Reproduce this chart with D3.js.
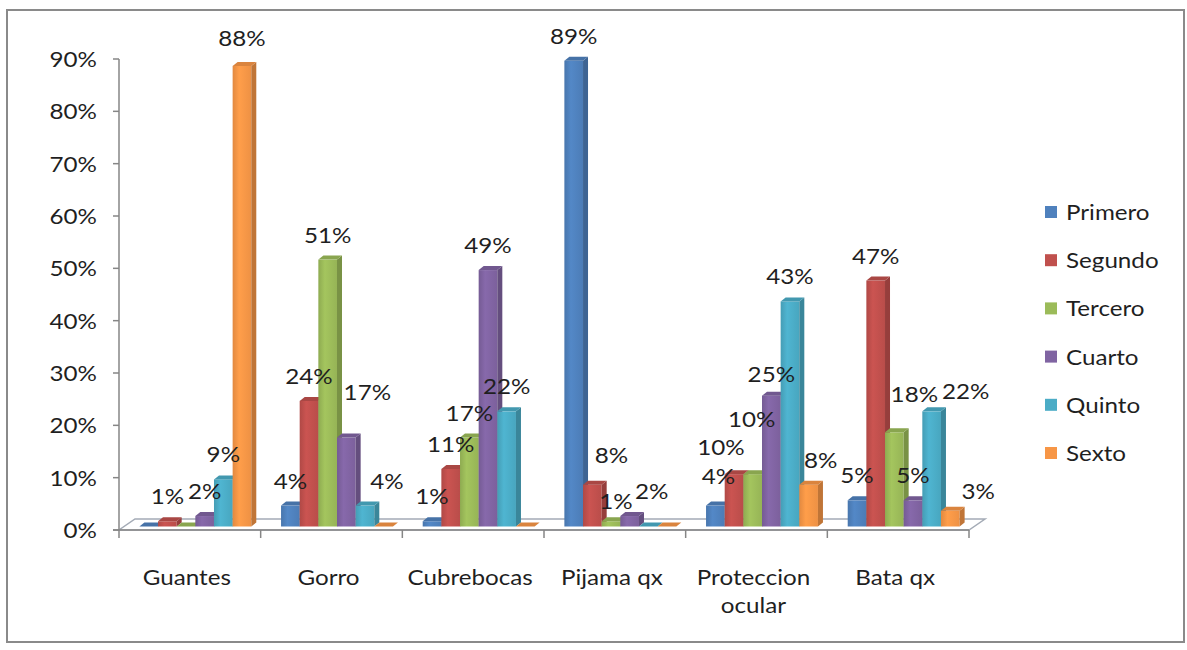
<!DOCTYPE html>
<html>
<head>
<meta charset="utf-8">
<script src="https://cdn.jsdelivr.net/npm/d3@7"></script>
<style>
  html, body { margin: 0; padding: 0; background: #fff; }
  svg { display: block; font-family: Lato, "Open Sans", sans-serif; }
</style>
</head>
<body>
<svg id="chart" width="1187" height="650"></svg>
<script>
// Categories (protective equipment) and the six ranking series
const categories = ["Guantes", "Gorro", "Cubrebocas", "Pijama qx", "Proteccion ocular", "Bata qx"];
const seriesNames = ["Primero", "Segundo", "Tercero", "Cuarto", "Quinto", "Sexto"];

const primero = [0.00, 0.04, 0.01, 0.89, 0.04, 0.05];
const segundo = [0.01, 0.24, 0.11, 0.08, 0.10, 0.47];
const tercero = [0.00, 0.51, 0.17, 0.01, 0.10, 0.18];
const cuarto  = [0.02, 0.17, 0.49, 0.02, 0.25, 0.05];
const quinto  = [0.09, 0.04, 0.22, 0.00, 0.43, 0.22];
const sexto   = [0.88, 0.00, 0.00, 0.00, 0.08, 0.03];

const yTickValues = [0, 0.1, 0.2, 0.3, 0.4, 0.5, 0.6, 0.7, 0.8, 0.9];

const seriesValues = [primero, segundo, tercero, cuarto, quinto, sexto];
const seriesColors = ["#4f81bd", "#c0504d", "#9bbb59", "#8064a2", "#4bacc6", "#f79646"];

// Hand-placed label shifts (category index, series index, dx, dy) where labels would collide
const labelNudges = [
  [0, 5, 0, -3],
  [1, 3, 21, -21],
  [1, 4, 22, 0],
  [3, 1, 19, -5],
  [3, 2, 5, 5],
  [3, 3, 22, 0],
  [4, 0, 3, -5],
  [4, 1, -13, -2],
  [4, 2, -1, -30],
  [4, 3, 0, 3],
  [4, 5, 12, 0],
  [5, 2, 20, -13],
  [5, 4, 34, 5],
  [5, 5, 28, 5]
];

const svg = d3.select("#chart");
const W = 1187, H = 650;
const FONT = 22, STRETCH = 1.1, TEXT = "#1f1f1f";

// Places a text node at (px, py) with a slight horizontal stretch
function place(sel, px, py) {
  return sel.attr("transform", `translate(${px},${py}) scale(${STRETCH},1)`);
}

// Outer frame
svg.append("rect").attr("x", 0).attr("y", 0).attr("width", W).attr("height", H).attr("fill", "#fff");
svg.append("rect")
  .attr("x", 7).attr("y", 10).attr("width", 1177).attr("height", 632)
  .attr("fill", "#fff").attr("stroke", "#8a8a8a").attr("stroke-width", 2);

const x = d3.scaleBand().domain(categories).range([119, 969]).paddingInner(0).paddingOuter(0);
const clusterW = x.bandwidth() * 0.79;
const inner = d3.scaleBand().domain(seriesNames).range([0, clusterW]).padding(0);
const clusterOffset = (x.bandwidth() - clusterW) / 2;
const y = d3.scaleLinear().domain([0, 0.9]).range([530, 59]);

// 3D depth of the floor and of each bar (projected offsets)
const floorDepth = { dx: 16, dy: -11 };
const barDepth = { dx: 5, dy: -4 };
const barShift = { dx: (floorDepth.dx - barDepth.dx) / 2, dy: (floorDepth.dy - barDepth.dy) / 2 };

const defs = svg.append("defs");
seriesColors.forEach((c, i) => {
  const base = d3.color(c);
  const g = defs.append("linearGradient").attr("id", "front" + i)
    .attr("x1", "0%").attr("x2", "100%").attr("y1", "0%").attr("y2", "0%");
  g.append("stop").attr("offset", "0%").attr("stop-color", base.darker(0.25));
  g.append("stop").attr("offset", "35%").attr("stop-color", base.brighter(0.15));
  g.append("stop").attr("offset", "100%").attr("stop-color", base.darker(0.1));
});

// Floor
const x0 = x.range()[0], x1 = x.range()[1], yFloor = y(0);
svg.append("polygon")
  .attr("points", [
    [x0, yFloor], [x1, yFloor],
    [x1 + floorDepth.dx, yFloor + floorDepth.dy],
    [x0 + floorDepth.dx, yFloor + floorDepth.dy]
  ].map(p => p.join(",")).join(" "))
  .attr("fill", "#fff").attr("stroke", "#a4abb6").attr("stroke-width", 1.5);

// Vertical axis
const axisColor = "#868686";
const gy = svg.append("g");
gy.append("line").attr("x1", x0).attr("x2", x0).attr("y1", y(0)).attr("y2", y(0.9))
  .attr("stroke", axisColor).attr("stroke-width", 1.5);
gy.selectAll("line.tick").data(yTickValues).join("line").attr("class", "tick")
  .attr("x1", x0 - 6).attr("x2", x0).attr("y1", d => y(d)).attr("y2", d => y(d))
  .attr("stroke", axisColor).attr("stroke-width", 1.5);
gy.selectAll("text").data(yTickValues).join("text")
  .each(function (d) { place(d3.select(this), 97, y(d)); })
  .attr("dy", "0.36em")
  .attr("text-anchor", "end").attr("font-size", FONT).attr("fill", TEXT)
  .text(d3.format(".0%"));

// Horizontal axis
const gx = svg.append("g");
gx.append("line").attr("x1", x0 - 6).attr("x2", x1).attr("y1", yFloor).attr("y2", yFloor)
  .attr("stroke", axisColor).attr("stroke-width", 1.5);
const boundaries = categories.map(c => x(c)).concat([x1]);
gx.selectAll("line.tick").data(boundaries).join("line").attr("class", "tick")
  .attr("x1", d => d).attr("x2", d => d).attr("y1", yFloor).attr("y2", yFloor + 8)
  .attr("stroke", axisColor).attr("stroke-width", 1.5);
gx.selectAll("text").data(categories).join("text")
  .each(function (d) { place(d3.select(this), x(d) + x.bandwidth() / 2 - 3, 585); })
  .attr("text-anchor", "middle").attr("font-size", FONT).attr("fill", TEXT)
  .each(function (d) {
    const words = d === "Proteccion ocular" ? ["Proteccion", "ocular"] : [d];
    const t = d3.select(this);
    words.forEach((w, i) => {
      t.append("tspan").attr("x", 0).attr("dy", i === 0 ? 0 : 28).text(w);
    });
  });

// Bars, drawn left to right so nearer side faces overlap correctly
const bars = [];
categories.forEach((c, ci) => {
  seriesNames.forEach((s, si) => {
    bars.push({ c, ci, s, si, v: seriesValues[si][ci] });
  });
});

const bw = inner.bandwidth();
function geom(d) {
  const bx = x(d.c) + clusterOffset + inner(d.s) + barShift.dx;
  const yb = y(0) + barShift.dy;
  const yt = y(d.v) + barShift.dy;
  return { bx, yb, yt };
}
const pts = arr => arr.map(p => p.join(",")).join(" ");

const gBars = svg.append("g");
bars.forEach(d => {
  const { bx, yb, yt } = geom(d);
  const base = d3.color(seriesColors[d.si]);
  const g = gBars.append("g");
  if (d.v > 0) {
    g.append("rect").attr("x", bx).attr("y", yt).attr("width", bw).attr("height", yb - yt)
      .attr("fill", `url(#front${d.si})`);
    g.append("polygon").attr("points", pts([
      [bx + bw, yb], [bx + bw + barDepth.dx, yb + barDepth.dy],
      [bx + bw + barDepth.dx, yt + barDepth.dy], [bx + bw, yt]
    ])).attr("fill", base.darker(0.7));
  }
  g.append("polygon").attr("points", pts([
    [bx, yt], [bx + bw, yt],
    [bx + bw + barDepth.dx, yt + barDepth.dy], [bx + barDepth.dx, yt + barDepth.dy]
  ])).attr("fill", base.darker(0.35));
});

// Value labels
const nudge = {};
labelNudges.forEach(([ci, si, dx, dy]) => { nudge[ci + "-" + si] = [dx, dy]; });
svg.append("g").selectAll("text").data(bars.filter(d => d.v > 0)).join("text")
  .each(function (d) {
    const g = geom(d);
    const n = nudge[d.ci + "-" + d.si] || [0, 0];
    place(d3.select(this), g.bx + bw / 2 + n[0], g.yt - 17 + n[1]);
  })
  .attr("text-anchor", "middle").attr("font-size", FONT).attr("fill", TEXT)
  .text(d => d3.format(".0%")(d.v));

// Legend
const legend = svg.append("g");
seriesNames.forEach((s, i) => {
  const ly = 212 + i * 48.2;
  legend.append("rect").attr("x", 1045).attr("y", ly - 6).attr("width", 12).attr("height", 12)
    .attr("fill", seriesColors[i]);
  place(legend.append("text"), 1066, ly).attr("dy", "0.36em")
    .attr("font-size", FONT).attr("fill", TEXT).text(s);
});
</script>
</body>
</html>
